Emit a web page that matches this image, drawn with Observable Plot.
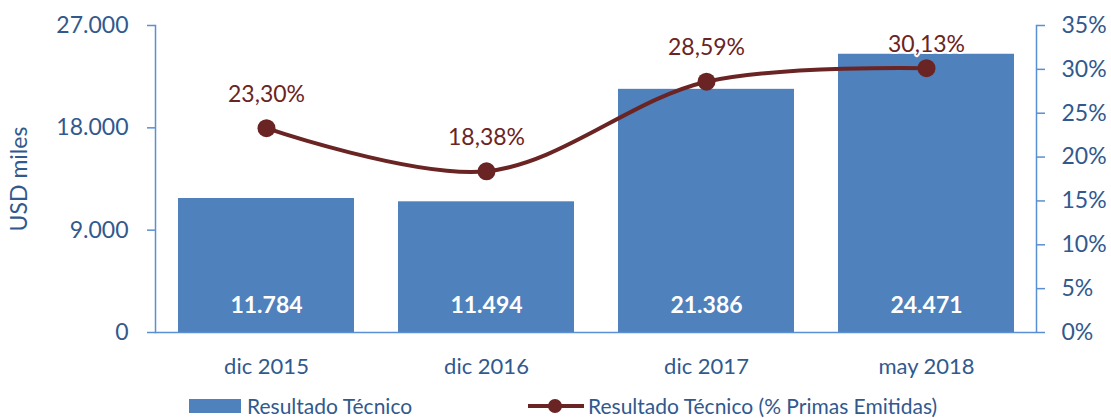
<!DOCTYPE html>
<html><head><meta charset="utf-8">
<script src="https://cdn.jsdelivr.net/npm/d3@7"></script>
<script src="https://cdn.jsdelivr.net/npm/@observablehq/plot@0.6"></script>
<style>
body{margin:0;background:#fff;font-family:Lato,"Open Sans",sans-serif}
#legend{position:relative;width:1111px;height:30px}
.lg{position:absolute;font-size:21px;color:#31598e;line-height:30px;top:3px;white-space:nowrap}
</style></head><body><div id="chart"></div><div id="legend"></div>
<script>
const periods = ["dic 2015","dic 2016","dic 2017","may 2018"];
const resultado = [11784, 11494, 21386, 24471];
const pctPrimas = [0.2330, 0.1838, 0.2859, 0.3013];
const leftTicks = [0, 9000, 18000, 27000];
const rightTicks = [0, 0.05, 0.10, 0.15, 0.20, 0.25, 0.30, 0.35];
const seriesNames = ["Resultado Técnico", "Resultado Técnico (% Primas Emitidas)"];

const yMax = 27000, pctMax = 0.35;
const toY = p => p / pctMax * yMax;
const loc = d3.formatLocale({decimal: ",", thousands: ".", grouping: [3], currency: ["", ""]});
const fmtNum = loc.format(",");
const fmtPct = loc.format(".2%");

const barColor = "#4f81bd", lineColor = "#6a2424", axisColor = "#5b8fd3", textColor = "#31598e";
const data = periods.map((p, i) => ({period: p, value: resultado[i], pct: pctPrimas[i]}));

const chart = Plot.plot({
  width: 1111, height: 388,
  marginLeft: 155, marginRight: 75, marginTop: 25, marginBottom: 56,
  style: {fontFamily: "Lato, 'Open Sans', sans-serif", background: "white"},
  x: {type: "band", domain: periods, paddingInner: 0.2, paddingOuter: 0.1},
  y: {domain: [0, yMax]},
  marks: [
    Plot.barY(data, {x: "period", y: "value", fill: barColor}),
    Plot.text(data, {x: "period", y: () => 0, text: d => fmtNum(d.value), dy: -27, fill: "white", fontWeight: "bold", fontSize: 23}),
    Plot.ruleY([0], {stroke: axisColor, strokeWidth: 1.5}),
    Plot.frame({anchor: "left", stroke: axisColor, strokeWidth: 1.5}),
    Plot.frame({anchor: "right", stroke: axisColor, strokeWidth: 1.5}),
    Plot.line(data, {x: "period", y: d => toY(d.pct), curve: "catmull-rom", stroke: lineColor, strokeWidth: 4}),
    Plot.dot(data, {x: "period", y: d => toY(d.pct), r: 9, fill: lineColor}),
    Plot.text(data.slice(0, 3), {x: "period", y: d => toY(d.pct), text: d => fmtPct(d.pct), dy: -34, fill: lineColor, fontSize: 23}),
    Plot.text(data.slice(3), {x: "period", y: d => toY(d.pct), text: d => fmtPct(d.pct), dy: -24, fill: lineColor, fontSize: 23, stroke: "white", strokeWidth: 4}),
    Plot.axisY(leftTicks, {anchor: "left", tickSize: 8, tickPadding: 19, stroke: axisColor, strokeWidth: 1.5, fill: textColor, fontSize: 23,
      tickFormat: d => fmtNum(d), label: "USD miles", labelAnchor: "center", labelOffset: 145, labelArrow: "none"}),
    Plot.axisY(rightTicks.map(toY), {anchor: "right", tickSize: 8, tickPadding: 17, stroke: axisColor, strokeWidth: 1.5, fill: textColor, fontSize: 23,
      tickFormat: v => Math.round(v / yMax * pctMax * 100) + "%", label: null}),
    Plot.axisX({tickSize: 0, tickPadding: 26, fill: textColor, fontSize: 22, label: null})
  ]
});
document.getElementById("chart").appendChild(chart);

const lg = document.getElementById("legend");
lg.innerHTML = `
<div style="position:absolute;left:189px;top:11px;width:52px;height:14px;background:${barColor}"></div>
<div class="lg" style="left:247px">${seriesNames[0]}</div>
<svg style="position:absolute;left:528px;top:4px" width="56" height="28">
  <line x1="0" y1="14" x2="56" y2="14" stroke="${lineColor}" stroke-width="4"/>
  <circle cx="27" cy="14" r="7" fill="${lineColor}"/>
</svg>
<div class="lg" style="left:588px">${seriesNames[1]}</div>`;
</script></body></html>
